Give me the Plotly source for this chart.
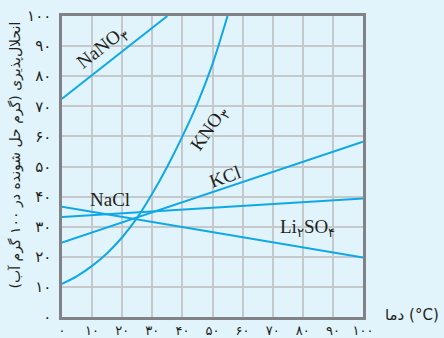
import plotly.graph_objects as go

# Temperatures (°C) and solubilities (g solute per 100 g water)
nano3_t = [0, 10, 20, 30, 35]
nano3_s = [72.5, 80.4, 88.2, 96.1, 100]

kno3_t = [0, 5, 10, 15, 20, 25, 30, 35, 40, 45, 50, 55]
kno3_s = [11, 13.6, 17, 21.2, 26.5, 33, 41, 50, 60, 71, 84, 100]

kcl_t = [0, 100]
kcl_s = [24.7, 58.2]

nacl_t = [0, 100]
nacl_s = [33.2, 39.4]

li2so4_t = [0, 100]
li2so4_s = [36.6, 19.8]

ticks = [0, 10, 20, 30, 40, 50, 60, 70, 80, 90, 100]
tick_text = ["۰", "۱۰", "۲۰", "۳۰", "۴۰", "۵۰", "۶۰", "۷۰", "۸۰", "۹۰", "۱۰۰"]

LINE = "#0fa8e6"
BG = "#e1f3fb"
FA = "DejaVu Sans"
SERIF = "Liberation Serif"

fig = go.Figure()
for t, s, shape in [
    (nano3_t, nano3_s, "linear"),
    (kno3_t, kno3_s, "spline"),
    (kcl_t, kcl_s, "linear"),
    (nacl_t, nacl_s, "linear"),
    (li2so4_t, li2so4_s, "linear"),
]:
    fig.add_trace(go.Scatter(x=t, y=s, mode="lines",
                             line=dict(color=LINE, width=2, shape=shape, smoothing=0.8),
                             showlegend=False, hoverinfo="skip"))

labels = [
    ("NaNO<sub>۳</sub>", 13.3, 89.4, -38),
    ("KNO<sub>۳</sub>", 49, 62.5, -55),
    ("KCl", 54.2, 46.8, -20),
    ("NaCl", 16, 38.9, 0),
    ("Li<sub>۲</sub>SO<sub>۴</sub>", 81.7, 29.6, 0),
]
for txt, x, y, ang in labels:
    fig.add_annotation(x=x, y=y, text=txt, showarrow=False, textangle=ang,
                       font=dict(family=SERIF, size=19, color="#231f20"))

fig.add_annotation(xref="paper", yref="paper", x=0, y=0.5, xshift=-47, yshift=11,
                   xanchor="center", yanchor="middle",
                   text="انحلال‌پذیری (گرم حل شونده در ۱۰۰ گرم آب)",
                   textangle=-90, showarrow=False,
                   font=dict(family=FA, size=14, color="#231f20"))
fig.add_annotation(xref="paper", yref="paper", x=1, y=0, xshift=49, yshift=2,
                   xanchor="center", yanchor="middle",
                   text="دما (°C)", showarrow=False,
                   font=dict(family=FA, size=15, color="#231f20"))

axis_common = dict(range=[0, 100], tickvals=ticks, ticktext=tick_text,
                   showgrid=True, gridcolor="#c6c9cc", gridwidth=1.5,
                   showline=True, linecolor="#808285", linewidth=2.5, mirror=True,
                   zeroline=False, ticks="", automargin=False)
fig.update_xaxes(**axis_common, ticklabelstandoff=0,
                 tickfont=dict(family=FA, size=13, color="#231f20"))
fig.update_yaxes(**axis_common, ticklabelstandoff=5,
                 tickfont=dict(family=FA, size=15, color="#231f20"))

fig.update_layout(width=444, height=338,
                  margin=dict(l=62, r=81, t=16, b=21),
                  paper_bgcolor=BG, plot_bgcolor=BG)

fig.write_html("out.html")
